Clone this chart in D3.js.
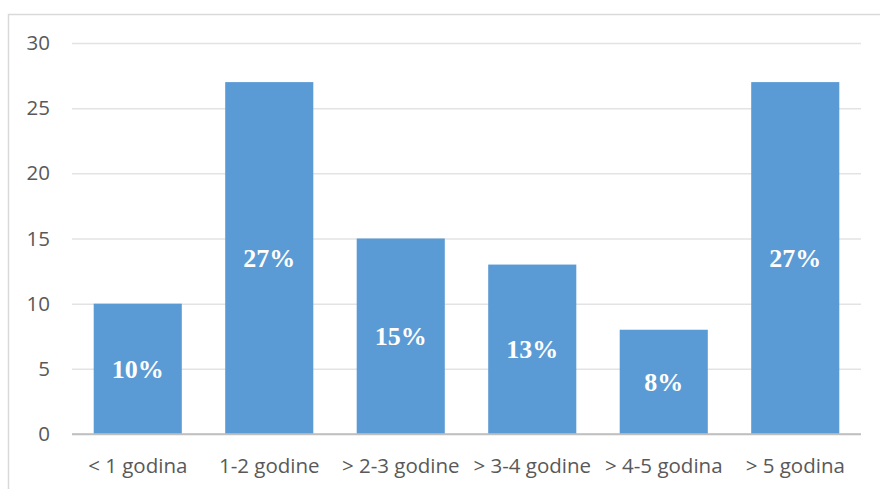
<!DOCTYPE html>
<html>
<head>
<meta charset="utf-8">
<script src="https://cdn.jsdelivr.net/npm/d3@7"></script>
<style>
  body { margin: 0; background: #fff; }
  svg { display: block; }
</style>
</head>
<body>
<svg></svg>
<script>
var width = 880;
var height = 489;

var categories = ["< 1 godina", "1-2 godine", "> 2-3 godine", "> 3-4 godine", "> 4-5 godina", "> 5 godina"];
var values = [10, 27, 15, 13, 8, 27];
var labels = ["10%", "27%", "15%", "13%", "8%", "27%"];
var yTicks = [0, 5, 10, 15, 20, 25, 30];

var plotLeft = 72, plotRight = 861, plotTop = 43, plotBottom = 434;

var svg = d3.select("svg")
    .attr("width", width)
    .attr("height", height);

// chart frame (right and bottom run off the picture)
svg.append("rect")
    .attr("x", 8.5)
    .attr("y", 14.5)
    .attr("width", 900)
    .attr("height", 500)
    .attr("fill", "none")
    .attr("stroke", "#d9d9d9")
    .attr("stroke-width", 1.5);

var xScale = d3.scaleBand()
    .domain(categories)
    .range([plotLeft, plotRight])
    .paddingInner(0.33)
    .paddingOuter(0.165);

var yScale = d3.scaleLinear()
    .domain([0, 30])
    .range([plotBottom, plotTop]);

var yAxis = d3.axisLeft(yScale)
    .tickValues(yTicks)
    .tickSize(-(plotRight - plotLeft))
    .tickSizeOuter(0)
    .tickPadding(22);

var gy = svg.append("g")
    .attr("transform", "translate(" + plotLeft + ",0)")
    .call(yAxis);
gy.select(".domain").remove();
gy.selectAll(".tick line")
    .attr("stroke", d => d === 0 ? "#bfbfbf" : "#e3e3e3")
    .attr("stroke-width", 1.5);
gy.selectAll(".tick text")
    .attr("fill", "#595959")
    .style("font-family", "'Open Sans', sans-serif")
    .style("font-size", "20.5px");

svg.selectAll("rect.bar")
    .data(values)
    .enter()
    .append("rect")
    .attr("class", "bar")
    .attr("x", (d, i) => xScale(categories[i]))
    .attr("y", d => yScale(d))
    .attr("width", xScale.bandwidth())
    .attr("height", d => yScale(0) - yScale(d))
    .attr("fill", "#5b9bd5");

// redraw the zero line over the bars
svg.append("line")
    .attr("x1", plotLeft)
    .attr("x2", plotRight)
    .attr("y1", yScale(0))
    .attr("y2", yScale(0))
    .attr("stroke", "#bfbfbf")
    .attr("stroke-width", 1.5);

svg.selectAll("text.val")
    .data(values)
    .enter()
    .append("text")
    .attr("class", "val")
    .attr("x", (d, i) => xScale(categories[i]) + xScale.bandwidth() / 2)
    .attr("y", d => (yScale(d) + yScale(0)) / 2)
    .attr("dy", "0.35em")
    .attr("text-anchor", "middle")
    .attr("fill", "#fff")
    .style("font-family", "'Liberation Serif', 'Times New Roman', serif")
    .style("font-weight", "bold")
    .style("font-size", "26px")
    .text((d, i) => labels[i]);

svg.selectAll("text.cat")
    .data(categories)
    .enter()
    .append("text")
    .attr("class", "cat")
    .attr("x", d => xScale(d) + xScale.bandwidth() / 2)
    .attr("y", 473)
    .attr("text-anchor", "middle")
    .attr("fill", "#595959")
    .style("font-family", "'Open Sans', sans-serif")
    .style("font-size", "20.5px")
    .text(d => d);
</script>
</body>
</html>
